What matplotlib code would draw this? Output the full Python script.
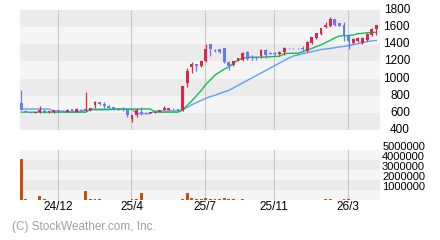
import matplotlib.pyplot as plt
import numpy as np

# weekly candles, oldest first
opens = [715, 625, 605, 598, 605, 625, 605, 606, 633, 622, 610, 640, 612, 636, 630, 630,
         690, 723, 707, 684, 665, 640, 650, 633, 528, 575, 614, 600, 598, 600, 610, 637,
         637, 650, 645, 630, 945, 1138, 1165, 1147, 1205, 1403, 1335, 1345, 1353, 1197, 1160, 1209,
         1220, 1310, 1255, 1250, 1260, 1333, 1300, 1300, 1290, 1314, 1360, 1360, 1360, 1355,
         1320, 1411, 1470, 1515, 1598, 1613, 1695, 1648, 1625, 1495, 1420, 1440, 1420, 1450,
         1508, 1575]
highs = [867, 632, 608, 610, 680, 640, 625, 636, 636, 628, 640, 643, 655, 640, 842, 660,
         740, 728, 730, 688, 670, 655, 668, 640, 580, 653, 668, 605, 610, 616, 632, 675,
         655, 662, 648, 913, 1120, 1197, 1170, 1205, 1403, 1403, 1350, 1350, 1355, 1200, 1210, 1245,
         1315, 1320, 1275, 1265, 1340, 1340, 1305, 1315, 1320, 1365, 1362, 1362, 1362, 1380,
         1435, 1490, 1535, 1595, 1660, 1720, 1695, 1650, 1660, 1495, 1475, 1480, 1480, 1528,
         1585, 1625]
lows = [630, 605, 595, 595, 598, 598, 600, 604, 610, 612, 608, 615, 605, 622, 625, 625,
        660, 695, 653, 655, 635, 635, 625, 555, 497, 555, 575, 590, 595, 598, 605, 635,
        632, 636, 618, 625, 905, 1068, 1085, 1140, 1195, 1263, 1310, 1300, 1180, 1100, 1150, 1200,
        1210, 1215, 1215, 1220, 1245, 1245, 1285, 1280, 1280, 1280, 1350, 1350, 1350, 1315,
        1315, 1400, 1465, 1505, 1590, 1605, 1610, 1610, 1440, 1350, 1400, 1430, 1400, 1440,
        1500, 1505]
closes = [633, 612, 598, 606, 633, 615, 620, 633, 614, 617, 637, 618, 645, 626, 650, 655,
          723, 705, 676, 660, 640, 650, 640, 575, 575, 633, 595, 595, 605, 614, 630, 660,
          653, 640, 622, 913, 1088, 1167, 1150, 1201, 1345, 1345, 1325, 1305, 1190, 1150, 1200, 1237,
          1300, 1230, 1245, 1245, 1333, 1280, 1290, 1290, 1305, 1355, 1352, 1352, 1352, 1345,
          1430, 1481, 1530, 1585, 1625, 1700, 1630, 1613, 1508, 1435, 1460, 1475, 1470, 1522,
          1577, 1625]
volumes = [4100000, 100000, 20000, 20000, 400000, 100000, 20000, 20000, 20000, 20000, 20000, 20000,
           20000, 20000, 900000, 100000, 100000, 100000, 20000, 20000, 20000, 20000, 20000, 20000,
           100000, 100000, 700000, 20000, 20000, 20000, 20000, 20000, 20000, 20000, 20000, 100000,
           700000, 200000, 100000, 100000, 200000, 100000, 100000, 100000, 200000, 100000, 100000, 20000,
           100000, 20000, 20000, 20000, 20000, 20000, 20000, 20000, 20000, 20000, 20000, 20000,
           20000, 20000, 20000, 20000, 20000, 20000, 100000, 100000, 20000, 20000, 100000, 100000,
           20000, 20000, 20000, 20000, 20000, 20000]
ma_short = [608, 608, 608, 608, 608, 608, 608, 608, 608, 608, 608, 608, 608, 608, 608, 642,
            642, 642, 642, 642, 645, 645, 645, 645, 645, 645, 645, 645, 645, 608, 608, 608,
            608, 608, 608, 630, 690, 740, 800, 860, 930, 985, 1040, 1075, 1110, 1135, 1180, 1215,
            1236, 1248, 1248, 1248, 1250, 1252, 1255, 1258, 1260, 1290, 1295, 1295, 1295, 1314,
            1335, 1350, 1375, 1392, 1420, 1445, 1475, 1497, 1500, 1502, 1510, 1522, 1528, 1535,
            1538, 1540]
ma_long = [645, 645, 645, 645, 645, 645, 645, 620, 620, 618, 616, 614, 616, 620, 625, 635,
           635, 635, 635, 635, 641, 641, 641, 641, 641, 592, 592, 592, 592, 622, 622, 622,
           622, 622, 625, 635, 665, 695, 720, 745, 770, 790, 805, 825, 845, 862, 891, 920,
           949, 978, 1007, 1036, 1065, 1094, 1123, 1152, 1181, 1210, 1239, 1262, 1275, 1290,
           1302, 1315, 1325, 1338, 1345, 1352, 1360, 1370, 1375, 1385, 1395, 1408, 1420, 1430,
           1440, 1445]

month_pos = [7.9, 23.9, 39.9, 54.8, 70.9]
month_labels = ['24/12', '25/4', '25/7', '25/11', '26/3']
price_ticks = [400, 600, 800, 1000, 1200, 1400, 1600, 1800]
vol_ticks = [1000000, 2000000, 3000000, 4000000, 5000000]

plt.rcParams['font.family'] = ['Liberation Sans', 'DejaVu Sans']

up_col = '#d8284f'
down_col = '#6478f8'
dark_band = '#ebebeb'
light_band = '#f5f5f5'
grid_col = '#c8c8c8'

fig = plt.figure(figsize=(4.4, 2.4), dpi=100)
ax = fig.add_axes([20 / 440, 1 - 130 / 240, 360 / 440, 120 / 240])
axv = fig.add_axes([20 / 440, 1 - 200 / 240, 360 / 440, 50 / 240])

x = np.arange(len(closes))
o = np.array(opens)
c = np.array(closes)
up = c >= o

for a in (ax, axv):
    a.set_xlim(-0.28, 77.8)
    for s in a.spines.values():
        s.set_visible(False)
    a.set_xticks([])
    a.set_yticks([])

# price panel
ax.set_ylim(400, 1800)
for k, lo in enumerate(price_ticks[:-1]):
    ax.axhspan(lo, lo + 200, color=dark_band if k % 2 == 0 else light_band, lw=0, zorder=0)
for p in month_pos:
    ax.axvline(p, color=grid_col, lw=0.8, zorder=1)
ax.plot(x, ma_long, color='#5aa2f2', lw=1.0, zorder=2)
ax.plot(x, ma_short, color='#10c050', lw=1.0, zorder=2)

cols = np.where(up, up_col, down_col)
ax.vlines(x, lows, highs, colors=cols, lw=0.9, zorder=3)
bottoms = np.minimum(o, c)
heights = np.maximum(np.abs(c - o), 9)
ax.bar(x, heights, bottom=bottoms, width=0.62, color=cols, lw=0, zorder=4)

for t in price_ticks:
    ax.annotate(str(t), xy=(1.0833, t), xycoords=('axes fraction', 'data'),
                ha='right', va='center', fontsize=8.5, annotation_clip=False)

# volume panel
axv.set_ylim(0, 5000000)
for k in range(5):
    axv.axhspan(k * 1000000, (k + 1) * 1000000, color=light_band if k % 2 == 0 else dark_band,
                lw=0, zorder=0)
for p in month_pos:
    axv.axvline(p, color=grid_col, lw=0.8, ymin=-0.04, ymax=1, clip_on=False, zorder=1)
axv.bar(x, volumes, width=0.62, color='#c8500a', lw=0, zorder=3)

for t in vol_ticks:
    axv.annotate(str(t), xy=(1.125, t), xycoords=('axes fraction', 'data'),
                 xytext=(0, 1.8), textcoords='offset points',
                 ha='right', va='center', fontsize=8, annotation_clip=False)
for p, lab in zip(month_pos, month_labels):
    axv.annotate(lab, xy=(p, 0), xycoords=('data', 'axes fraction'),
                 xytext=(0, -5.4), textcoords='offset points',
                 ha='center', va='center', fontsize=8.5, annotation_clip=False)

fig.text(12 / 440, 1 - 227 / 240, '(C) StockWeather.com, Inc.', color='#a0a0a0',
         fontsize=8.5, ha='left', va='center')

plt.savefig('out.png', dpi=100)
